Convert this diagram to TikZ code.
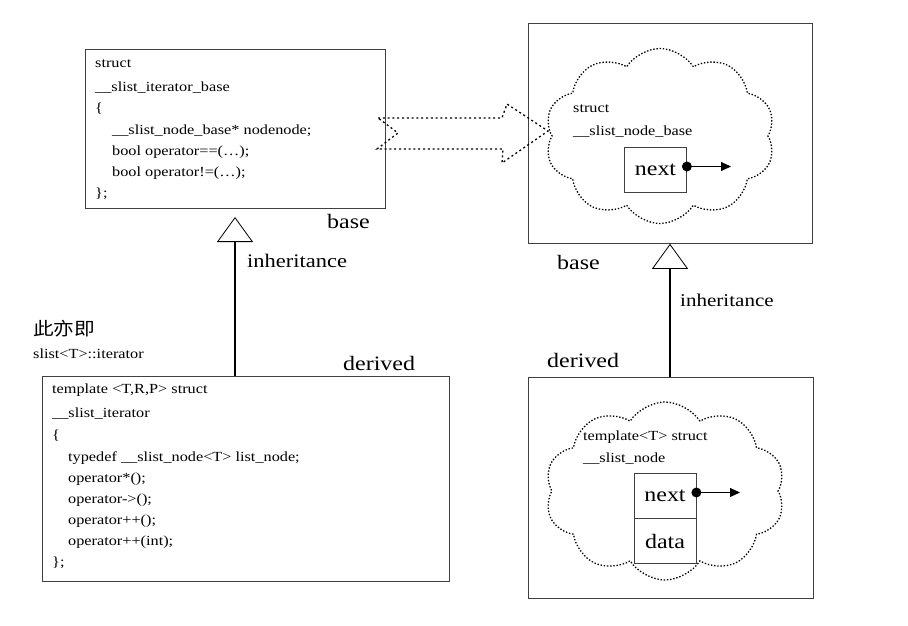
\documentclass[tikz,border=0pt]{standalone}
\usepackage{fontspec}
\setmainfont{Liberation Serif}[FakeStretch=1.17]
\newfontfamily\cjk{Noto Sans CJK SC}[FakeStretch=1.15]
\usetikzlibrary{arrows.meta,shapes.symbols}

\tikzset{
  frame/.style={draw=black!75, line width=0.8pt, inner sep=0, anchor=north west},
  code/.style={anchor=base west, inner sep=0, font=\fontsize{13.9}{16}\selectfont},
  biglabel/.style={anchor=base west, inner sep=0, font=\fontsize{20.5}{24}\selectfont},
  midlabel/.style={anchor=base west, inner sep=0, font=\fontsize{19.2}{22}\selectfont},
  puff/.style={cloud, draw, cloud puffs=10, cloud puff arc=115, cloud ignores aspect,
    inner sep=0, dash pattern=on 1.4pt off 1.8pt, line width=1.3pt},
  field/.style={draw=black!75, line width=0.8pt, inner sep=0, minimum width=62pt,
    font=\fontsize{20.5}{24}\selectfont},
  pin/.style={circle, fill, inner sep=0, minimum size=10pt},
  pointer/.style={line width=0.8pt, -{Triangle[length=10pt,width=9pt]}},
  inherit/.style={line width=1.6pt,
    -{Triangle[open, length=25pt, width=36pt, line width=0.8pt, fill=white]}},
  blockarrow/.style={line width=1.3pt, dash pattern=on 2pt off 2.8pt}
}

\begin{document}
\begin{tikzpicture}[x=1pt, y=-1pt]
\useasboundingbox (0,0) rectangle (908,626);

% ---------- __slist_iterator_base ----------
\node[frame, minimum width=300pt, minimum height=159pt] (boxA) at (85,49) {};
\node[code] (a1) at (95,67)  {struct};
\node[code] (a2) at (95,92)  {\_\_slist\_iterator\_base};
\node[code] (a3) at (95,113) {\{};
\node[code] (a4) at (112,134) {\_\_slist\_node\_base* nodenode;};
\node[code] (a5) at (112,155) {bool operator==(…);};
\node[code] (a6) at (112,176) {bool operator!=(…);};
\node[code] (a7) at (95,197) {\};};
\node[biglabel] (baseA) at (327,228) {base};

% ---------- __slist_iterator ----------
\node[frame, minimum width=407pt, minimum height=205pt] (boxB) at (42,376) {};
\node[code] (b1) at (52,393) {template <T,R,P> struct};
\node[code] (b2) at (52,417) {\_\_slist\_iterator};
\node[code] (b3) at (52,439) {\{};
\node[code] (b4) at (68,461) {typedef \_\_slist\_node<T> list\_node;};
\node[code] (b5) at (68,482) {operator*();};
\node[code] (b6) at (68,503) {operator->();};
\node[code] (b7) at (68,524) {operator++();};
\node[code] (b8) at (68,545) {operator++(int);};
\node[code] (b9) at (52,566) {\};};
\node[biglabel] (derivedB) at (343,370) {derived};
\node[anchor=base west, inner sep=0, font=\cjk\fontsize{18}{20}\selectfont] (alias) at (33,335) {此亦即};
\node[code] (aliasname) at (33,358) {slist<T>::iterator};

% inheritance between the iterators
\coordinate (tipA) at (235,217);
\draw[inherit] (tipA |- boxB.north) -- (tipA);
\node[midlabel] (inhA) at (247,267) {inheritance};

% ---------- __slist_node_base ----------
\node[frame, minimum width=284pt, minimum height=220pt] (boxC) at (528,23) {};
\node[puff, minimum width=230pt, minimum height=175pt] (cloudC) at (660,136) {};
\node[code] (c1) at (573,113) {struct};
\node[code] (c2) at (573,135) {\_\_slist\_node\_base};
\node[field, minimum height=45pt] (nextC) at (655.5,169.5) {next};
\node[pin] (pinC) at ([yshift=3pt]nextC.east) {};
\coordinate (endC) at (731,166.5);
\draw[pointer] (pinC.center) -- (endC);
\node[biglabel] (baseC) at (557,269) {base};

% ---------- __slist_node ----------
\node[frame, minimum width=285pt, minimum height=221pt] (boxD) at (528,377) {};
\node[puff, minimum width=240pt, minimum height=178pt] (cloudD) at (665,491) {};
\node[code] (d1) at (583,440) {template<T> struct};
\node[code] (d2) at (583,462) {\_\_slist\_node};
\node[field, minimum height=45pt] (nextD) at (665,495.5) {next};
\node[field, minimum height=45pt, anchor=north] (dataD) at (nextD.south) {data};
\node[pin] (pinD) at ([yshift=3pt]nextD.east) {};
\coordinate (endD) at (740,492.5);
\draw[pointer] (pinD.center) -- (endD);
\node[biglabel] (derivedD) at (547,367) {derived};

% inheritance between the nodes
\coordinate (tipC) at (670,0);
\draw[inherit] (tipC |- boxD.north) -- (tipC |- boxC.south);
\node[anchor=base west, inner sep=0, font=\fontsize{18}{21}\selectfont] (inhC) at (680,306) {inheritance};

% dotted block arrow from the iterator base to the node base
\draw[blockarrow] (378,118) -- (502,118) -- (507,104) -- (548,131)
  -- (502,163) -- (503,149) -- (377,149) -- (398,133) -- cycle;
\end{tikzpicture}
\end{document}
